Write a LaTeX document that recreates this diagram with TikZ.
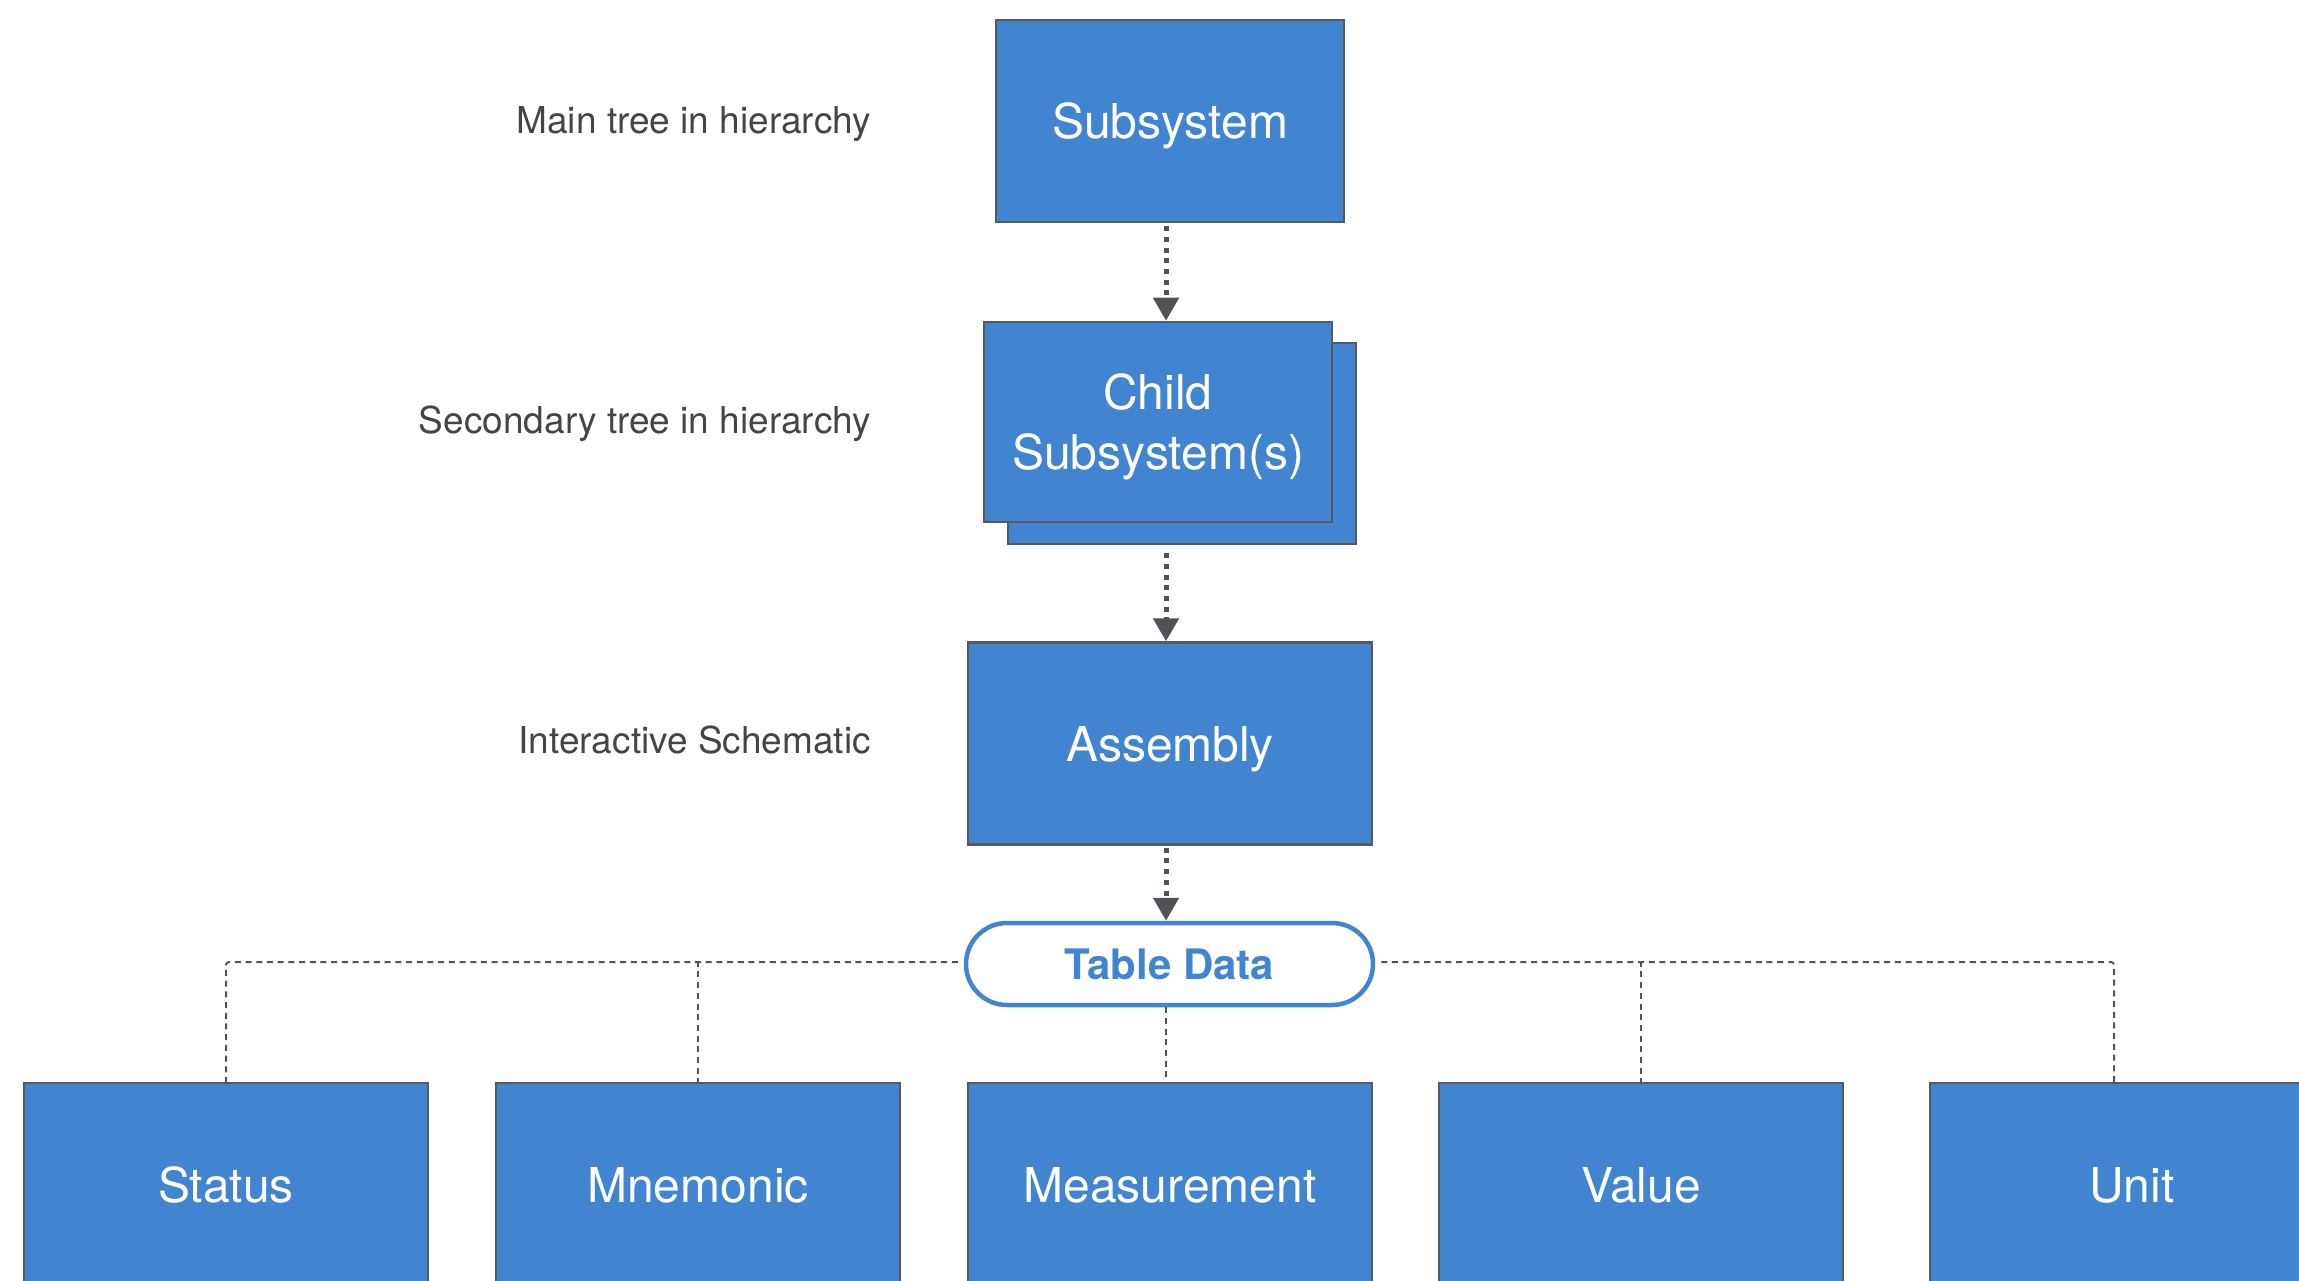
\documentclass[tikz,border=0pt]{standalone}
\usepackage{fontspec}
\setmainfont{TeX Gyre Heros}
\usetikzlibrary{arrows.meta,calc}
\definecolor{boxblue}{HTML}{4184D0}
\definecolor{edgegray}{HTML}{555A60}
\definecolor{lblgray}{HTML}{454545}
\definecolor{arrgray}{HTML}{505459}
\begin{document}
\begin{tikzpicture}[x=1pt,y=-1pt,
  bluebox/.style={rectangle, draw=edgegray, line width=2.5pt, fill=boxblue, text=white,
    font=\fontsize{48}{60}\selectfont, inner sep=0pt, align=center, text depth=0pt},
  sidelabel/.style={anchor=east, text=lblgray, font=\fontsize{37}{42}\selectfont, inner sep=0pt},
  pill/.style={rectangle, rounded corners=41pt, draw=boxblue, line width=4.5pt, fill=white,
    text=boxblue, font=\fontsize{42}{48}\selectfont\bfseries, inner sep=0pt,
    minimum width=407pt, minimum height=82pt},
  dotarrow/.style={draw=arrgray, line width=5pt, dash pattern=on 5pt off 5.7pt,
    -{Triangle[width=25pt,length=23pt]}},
  thindash/.style={draw=arrgray, line width=2pt, dash pattern=on 6pt off 4.7pt, rounded corners=3pt}]
\useasboundingbox (0,0) rectangle (2299,1281);
\clip (0,0) rectangle (2299,1281);
\fill[white] (0,0) rectangle (2299,1281);

% side labels
\node[sidelabel] (l1) at (871,124) {Main tree in hierarchy};
\node[sidelabel] (l2) at (871,424) {Secondary tree in hierarchy};
\node[sidelabel] (l3) at (871,740) {Interactive Schematic};

% main column
\node[bluebox, minimum width=348pt, minimum height=202pt] (sub) at (1170,121) {Subsystem};
\node[bluebox, minimum width=348pt, minimum height=201pt] (childback) at (1182,443.5) {};
\node[bluebox, minimum width=348pt, minimum height=200pt] (child) at (1158,422) {Child\\Subsystem(s)};
\node[bluebox, minimum width=404pt, minimum height=202pt] (asm) at (1170,743.5) {Assembly};
\node[pill] (td) at (1169.5,964) {Table Data};

% bottom row
\node[bluebox, minimum width=404pt, minimum height=203pt] (status) at (226,1184.5) {Status};
\node[bluebox, minimum width=404pt, minimum height=203pt] (mnem) at (698,1184.5) {Mnemonic};
\node[bluebox, minimum width=404pt, minimum height=203pt] (meas) at (1170,1184.5) {Measurement};
\node[bluebox, minimum width=404pt, minimum height=203pt] (val) at (1641,1184.5) {Value};
\node[bluebox, minimum width=404pt, minimum height=203pt] (unit) at (2132,1184.5) {Unit};

% arrow column
\coordinate (ax) at (1166,0);
\coordinate (unitdrop) at (2114,1083);
\draw[dotarrow] ($(sub.south -| ax)+(0,3)$) -- (child.north -| ax);
\draw[dotarrow] ($(childback.south -| ax)+(0,8)$) -- (asm.north -| ax);
\draw[dotarrow] ($(asm.south -| ax)+(0,2)$) -- (td.north -| ax);

% table data distribution
\draw[thindash] ($(td.west)+(-6,-2)$) -| (status.north);
\draw[thindash] ($(td.east)+(6,-2)$) -| (unitdrop);
\draw[thindash] ($(mnem.north)+(0,-121)$) -- (mnem.north);
\draw[thindash] ($(val.north)+(0,-121)$) -- (val.north);
\draw[thindash] (td.south -| ax) -- (meas.north -| ax);
\end{tikzpicture}
\end{document}
